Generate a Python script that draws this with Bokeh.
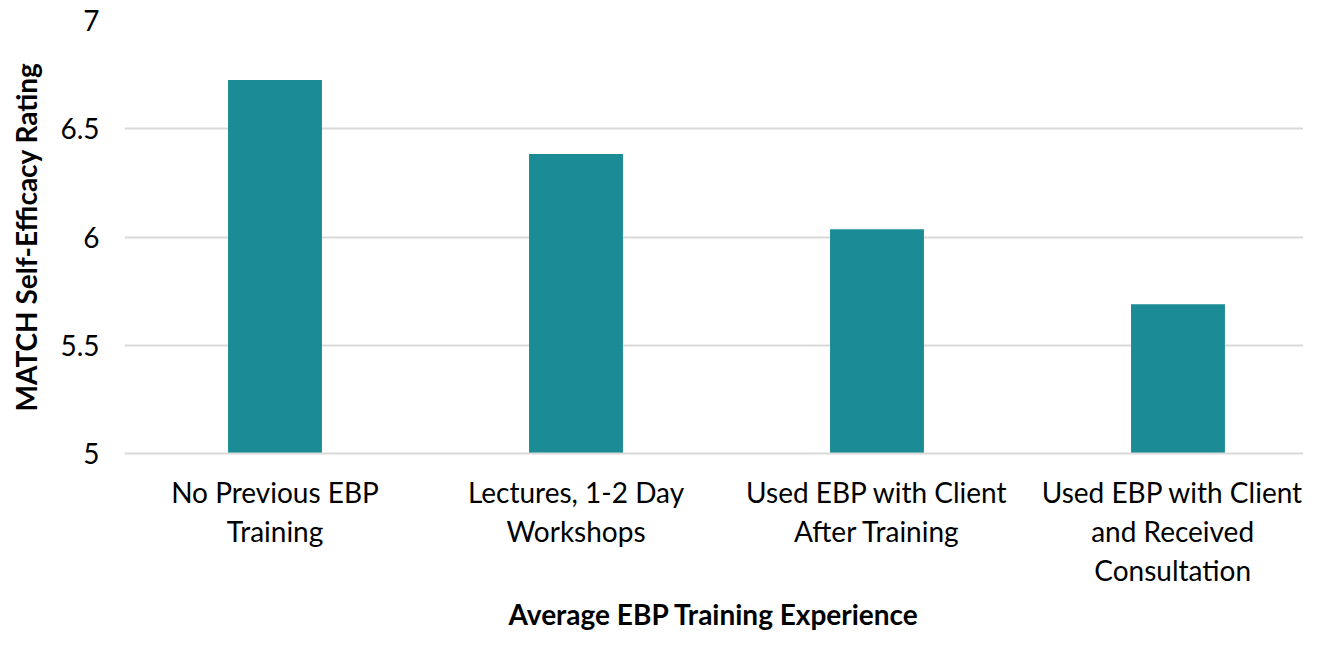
from bokeh.plotting import figure
from bokeh.models import Range1d, FixedTicker, ColumnDataSource
from bokeh.embed import file_html
from bokeh.resources import INLINE

categories = ["No Previous EBP\nTraining", "Lectures, 1-2 Day\nWorkshops",
              "Used EBP with Client\nAfter Training",
              "Used EBP with Client\nand Received\nConsultation"]
values = [6.725, 6.383, 6.036, 5.689]
y_ticks = [5, 5.5, 6, 6.5, 7]
y_tick_labels = ["5", "5.5", "6", "6.5", "7"]

xpos = [i + 0.5 for i in range(len(categories))]
src = ColumnDataSource(dict(x=xpos, top=values))

FONT = "Lato"
p = figure(width=1303, height=633, output_backend="svg", toolbar_location=None,
           x_range=Range1d(0, 3.917), y_range=Range1d(5, 7),
           min_border_left=124, min_border_right=0, min_border_top=20, min_border_bottom=173)
p.outline_line_color = None
p.background_fill_color = "white"
p.border_fill_color = "white"

p.vbar(x="x", top="top", bottom=5, width=0.312, source=src,
       fill_color="#1b8c96", line_color=None)

p.xgrid.grid_line_color = None
p.ygrid.grid_line_color = "#d9d9d9"
p.ygrid.grid_line_width = 2
p.ygrid.ticker = FixedTicker(ticks=y_ticks)

p.yaxis.ticker = FixedTicker(ticks=y_ticks)
p.yaxis.major_label_overrides = {t: l for t, l in zip(y_ticks, y_tick_labels)}
p.xaxis.ticker = FixedTicker(ticks=xpos)
p.xaxis.major_label_overrides = {x: c for x, c in zip(xpos, categories)}

for ax in (p.xaxis[0], p.yaxis[0]):
    ax.axis_line_color = None
    ax.major_tick_line_color = None
    ax.minor_tick_line_color = None
    ax.major_label_text_font = FONT
    ax.major_label_text_font_size = "28px"
    ax.major_label_text_color = "black"
    ax.axis_label_text_font = FONT
    ax.axis_label_text_font_style = "bold"
    ax.axis_label_text_font_size = "28px"
    ax.axis_label_text_color = "black"

p.xaxis.major_label_text_line_height = 1.15
p.xaxis.axis_line_color = "#d9d9d9"
p.xaxis.axis_line_width = 2
p.xaxis.major_label_standoff = 15
p.yaxis.major_label_standoff = 19
p.xaxis.axis_label = "Average EBP Training Experience"
p.yaxis.axis_label = "MATCH Self-Efficacy Rating"
p.xaxis.axis_label_standoff = 7
p.yaxis.axis_label_standoff = 14

open("out.html", "w").write(file_html(p, INLINE))
